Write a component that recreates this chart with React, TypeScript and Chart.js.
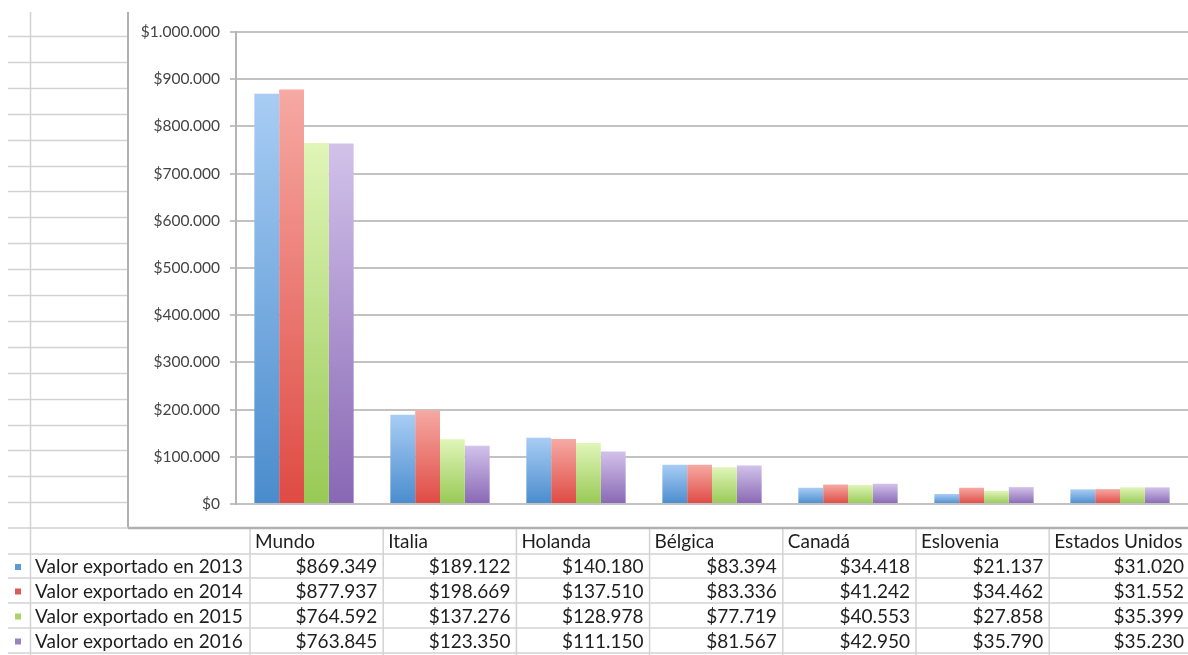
import React, { useEffect, useRef } from "react";
import { Chart, registerables } from "chart.js";

Chart.register(...registerables);

// ---------- data ----------
const categories = ["Mundo", "Italia", "Holanda", "Bélgica", "Canadá", "Eslovenia", "Estados Unidos"];
const seriesLabels = [
  "Valor exportado en 2013",
  "Valor exportado en 2014",
  "Valor exportado en 2015",
  "Valor exportado en 2016",
];
const values2013 = [869349, 189122, 140180, 83394, 34418, 21137, 31020];
const values2014 = [877937, 198669, 137510, 83336, 41242, 34462, 31552];
const values2015 = [764592, 137276, 128978, 77719, 40553, 27858, 35399];
const values2016 = [763845, 123350, 111150, 81567, 42950, 35790, 35230];
const seriesValues = [values2013, values2014, values2015, values2016];
const yMin = 0;
const yMax = 1000000;
const yStep = 100000;

// ---------- styles ----------
const palette = [
  { top: "#a8cdf4", bottom: "#4a8ccd", mark: "#5b9bd5" },
  { top: "#f6a9a3", bottom: "#df4a44", mark: "#e05a55" },
  { top: "#e0f5b8", bottom: "#98c955", mark: "#a8d46a" },
  { top: "#d2c2ea", bottom: "#8867b4", mark: "#9a80c4" },
];
const FONT = "Lato, 'Open Sans', sans-serif";

const fmt = (v: number) => "$" + Math.round(v).toString().replace(/\B(?=(\d{3})+(?!\d))/g, ".");

const W = 1188;
const H = 655;

const sheetPlugin = {
  id: "sheet",
  beforeDraw(chart: any) {
    const c = chart.ctx as CanvasRenderingContext2D;
    c.save();
    c.fillStyle = "#ffffff";
    c.fillRect(0, 0, W, H);
    // spreadsheet rows on the left
    c.strokeStyle = "#d2d2d2";
    c.lineWidth = 1.5;
    const rowTop = 36;
    const rowH = 25.9;
    for (let k = 0; k < 19; k++) {
      const y = Math.round(rowTop + rowH * k) + 0.5;
      c.beginPath();
      c.moveTo(8, y);
      c.lineTo(128, y);
      c.stroke();
    }
    // vertical column line at x=30
    c.beginPath();
    c.moveTo(30.5, 12);
    c.lineTo(30.5, H);
    c.stroke();
    // chart box border
    c.strokeStyle = "#b0b0b0";
    c.lineWidth = 2;
    c.beginPath();
    c.moveTo(128, 12);
    c.lineTo(128, 528);
    c.stroke();
    c.restore();
  },
  afterDraw(chart: any) {
    const c = chart.ctx as CanvasRenderingContext2D;
    c.save();
    const tableTop = 528;
    const rowLines = [528, 554, 578, 603, 628, 653];
    const colLines = [250, 383.2, 516.4, 649.6, 782.8, 916, 1049.2];
    c.strokeStyle = "#d2d2d2";
    c.lineWidth = 1.5;
    rowLines.forEach((y) => {
      c.beginPath();
      c.moveTo(8, y);
      c.lineTo(W, y);
      c.stroke();
    });
    colLines.forEach((x) => {
      c.beginPath();
      c.moveTo(x, tableTop);
      c.lineTo(x, H);
      c.stroke();
    });
    // chart box bottom border
    c.strokeStyle = "#b0b0b0";
    c.lineWidth = 2.5;
    c.beginPath();
    c.moveTo(128, tableTop);
    c.lineTo(W, tableTop);
    c.stroke();

    c.font = `19px ${FONT}`;
    c.fillStyle = "#1e1e1e";
    c.textBaseline = "middle";
    // header
    categories.forEach((cat, i) => {
      c.textAlign = "left";
      c.fillText(cat, colLines[i] + 5, (rowLines[0] + rowLines[1]) / 2 + 1);
    });
    // rows
    seriesLabels.forEach((lab, r) => {
      const cy = (rowLines[r + 1] + rowLines[r + 2]) / 2 + 1;
      c.fillStyle = palette[r].mark;
      c.fillRect(15, cy - 3, 6, 6);
      c.fillStyle = "#1e1e1e";
      c.textAlign = "left";
      c.fillText(lab, 35, cy);
      c.textAlign = "right";
      seriesValues[r].forEach((v, i) => {
        const right = i + 1 < colLines.length ? colLines[i + 1] : 1190;
        c.fillText(fmt(v), right - 6, cy);
      });
    });
    c.restore();
  },
};

export default function App() {
  const ref = useRef<HTMLCanvasElement | null>(null);

  useEffect(() => {
    document.body.style.margin = "0";
    const canvas = ref.current;
    if (!canvas) return;
    const chart = new Chart(canvas, {
      type: "bar",
      data: {
        labels: categories,
        datasets: seriesValues.map((vals, i) => ({
          label: seriesLabels[i],
          data: vals,
          borderWidth: 0,
          categoryPercentage: 0.73,
          barPercentage: 1.0,
          backgroundColor: (ctx: any) => {
            const ch = ctx.chart;
            const { chartArea, scales } = ch;
            if (!chartArea || ctx.type !== "data" || !scales.y) return palette[i].mark;
            const yTop = scales.y.getPixelForValue(ctx.raw);
            const yBot = scales.y.getPixelForValue(0);
            if (!isFinite(yTop) || yBot - yTop < 1) return palette[i].mark;
            const g = ch.ctx.createLinearGradient(0, yTop, 0, yBot);
            g.addColorStop(0, palette[i].top);
            g.addColorStop(1, palette[i].bottom);
            return g;
          },
        })),
      },
      options: {
        responsive: false,
        animation: false,
        devicePixelRatio: 1,
        layout: { padding: { top: 32, bottom: H - 504, left: 0, right: 0 } },
        plugins: {
          legend: { display: false },
          tooltip: { enabled: false },
          title: { display: false },
        },
        scales: {
          x: {
            display: false,
          },
          y: {
            min: yMin,
            max: yMax,
            afterFit: (scale: any) => {
              scale.width = 236;
            },
            grid: {
              color: "#c2c2c2",
              lineWidth: 2,
              drawTicks: true,
              tickLength: 6,
            },
            border: { display: true, color: "#b4b4b4", width: 2 },
            ticks: {
              stepSize: yStep,
              padding: 10,
              color: "#444444",
              font: { family: FONT, size: 15.5 },
              callback: (v: any) => fmt(Number(v)),
            },
          },
        },
      },
      plugins: [sheetPlugin],
    });
    return () => chart.destroy();
  }, []);

  return (
    <div style={{ position: "absolute", left: 0, top: 0, width: W, height: H, background: "#fff" }}>
      <canvas ref={ref} width={W} height={H} style={{ display: "block", width: W, height: H }} />
    </div>
  );
}
